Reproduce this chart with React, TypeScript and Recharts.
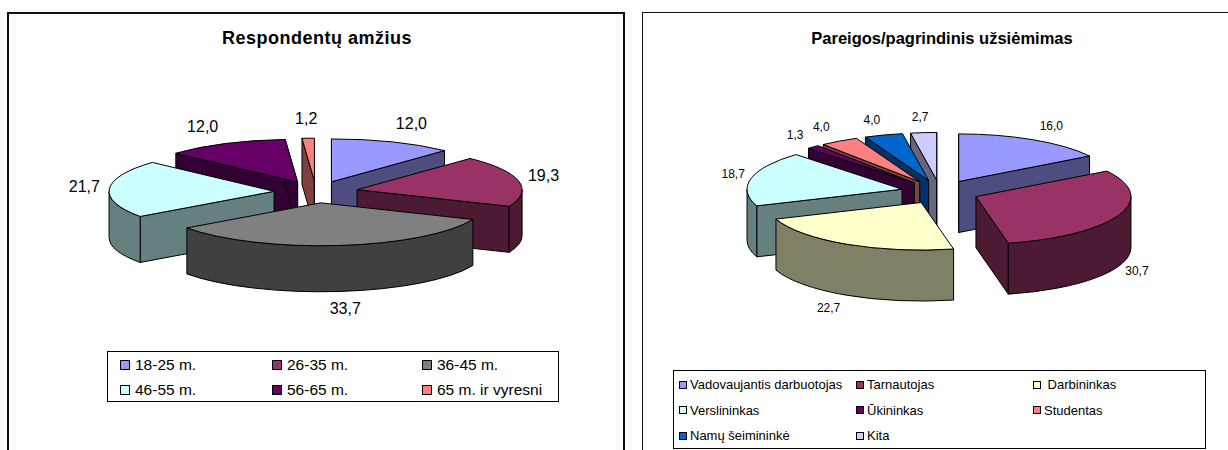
import { PieChart, Pie } from 'recharts'

const ageNames = ['18-25 m.', '26-35 m.', '36-45 m.', '46-55 m.', '56-65 m.', '65 m. ir vyresni']
const ageValues = [12.0, 19.3, 33.7, 21.7, 12.0, 1.2]
const ageColors = ['#9999ff', '#993366', '#808080', '#ccffff', '#660066', '#ff8080']
const agePaintOrder = [5, 4, 0, 3, 1, 2]

const jobNames = [
  'Vadovaujantis darbuotojas',
  'Tarnautojas',
  ' Darbininkas',
  'Verslininkas',
  'Ūkininkas',
  'Studentas',
  'Namų šeimininkė',
  'Kita',
]
const jobValues = [16.0, 30.7, 22.7, 18.7, 1.3, 4.0, 4.0, 2.7]
const jobColors = ['#9999ff', '#993366', '#ffffcc', '#ccffff', '#660066', '#ff8080', '#0066cc', '#ccccff']
const jobPaintOrder = [7, 6, 5, 4, 3, 0, 1, 2]

const toRows = (names: string[], values: number[], colors: string[]) =>
  names.map((name, i) => ({ name, value: values[i], color: colors[i], order: i }))

const shade = (hex: string) => {
  const n = parseInt(hex.slice(1), 16)
  const c = (v: number) => Math.round(v / 2).toString(16).padStart(2, '0')
  return `#${c((n >> 16) & 255)}${c((n >> 8) & 255)}${c(n & 255)}`
}

const RAD = Math.PI / 180

interface SliceStyle {
  tilt: number
  explode: number
  depth: number
  fontSize: number
  labelMaxX: number
  labelKX: number
  labelY: number
}

// one exploded slice: flat ellipse wedge plus its extruded walls
function Slice3D(props: any, style: SliceStyle) {
  const { cx, cy, outerRadius: rx, startAngle, endAngle, payload } = props
  const { tilt, explode, depth } = style
  const ry = rx * tilt
  const color = payload.color
  const side = shade(color)
  const mid = ((startAngle + endAngle) / 2) * RAD
  const ax = cx + explode * Math.cos(mid)
  const ay = cy - explode * tilt * Math.sin(mid)
  const pt = (deg: number) =>
    [ax + rx * Math.cos(deg * RAD), ay - ry * Math.sin(deg * RAD)] as const
  const [sx, sy] = pt(startAngle)
  const [ex, ey] = pt(endAngle)
  const arc = `A${rx},${ry} 0 ${Math.abs(endAngle - startAngle) > 180 ? 1 : 0} 1`

  // cut walls, seen only when they face the viewer
  const wall = (deg: number) => {
    const [x, y] = pt(deg)
    return `M${ax},${ay} L${x},${y} L${x},${y + depth} L${ax},${ay + depth} Z`
  }
  const walls: string[] = []
  if (Math.cos(startAngle * RAD) < 0 || Math.sin(startAngle * RAD) > 0.99) walls.push(wall(startAngle))
  if (Math.cos(endAngle * RAD) > 0 || Math.sin(endAngle * RAD) > 0.99) walls.push(wall(endAngle))

  // outer rim: only the part of the arc on the near half of the ellipse
  let rim = ''
  for (const [lo, hi] of [[-180, 0], [-540, -360], [180, 360]]) {
    const a = Math.min(startAngle, hi)
    const b = Math.max(endAngle, lo)
    if (a <= b) continue
    const [x1, y1] = pt(a)
    const [x2, y2] = pt(b)
    rim += `M${x1},${y1} A${rx},${ry} 0 0 1 ${x2},${y2} L${x2},${y2 + depth} A${rx},${ry} 0 0 0 ${x1},${y1 + depth} Z `
  }

  const cosM = Math.cos(mid)
  const sinM = Math.sin(mid)
  const lx = ax + rx * cosM + Math.sign(cosM) * Math.min(style.labelMaxX, Math.abs(cosM) * style.labelKX)
  const ly = ay - ry * sinM - sinM * style.labelY + (sinM < 0 ? depth : 0)

  return (
    <g stroke="#000" strokeWidth={1} strokeLinejoin="round">
      {walls.map((d) => (
        <path key={d} d={d} fill={side} />
      ))}
      {rim && <path d={rim} fill={side} />}
      <path d={`M${ax},${ay} L${sx},${sy} ${arc} ${ex},${ey} Z`} fill={color} />
      <text
        x={lx}
        y={ly}
        textAnchor="middle"
        dominantBaseline="middle"
        stroke="none"
        fill="#000"
        fontSize={style.fontSize}
        fontFamily="Liberation Sans"
      >
        {payload.value.toFixed(1).replace('.', ',')}
      </text>
    </g>
  )
}

interface LegendBox {
  left: number
  top: number
  width: number
  height: number
  cols: string
  rowH: number
  size: number
  pad: string
  swatch: number
  gap: number
}

interface PanelProps {
  title: string
  names: string[]
  values: number[]
  colors: string[]
  paintOrder: number[]
  left: number
  top: number
  width: number
  border: number
  titleSize: number
  titleY: number
  titleX: number
  titleSpacing: number
  cx: number
  cy: number
  radius: number
  style: SliceStyle
  legend: LegendBox
}

function Panel(p: PanelProps) {
  const rows = toRows(p.names, p.values, p.colors)
  return (
    <div
      style={{
        position: 'absolute',
        left: p.left,
        top: p.top,
        width: p.width,
        height: 470,
        border: `${p.border}px solid #111`,
        boxSizing: 'border-box',
        background: '#fff',
      }}
    >
      <div
        style={{
          position: 'absolute',
          top: p.titleY,
          left: p.titleX,
          width: '100%',
          textAlign: 'center',
          fontFamily: 'Liberation Sans',
          fontWeight: 'bold',
          fontSize: p.titleSize,
          letterSpacing: p.titleSpacing,
        }}
      >
        {p.title}
      </div>
      <div style={{ position: 'absolute', left: 0, top: 0 }}>
        <PieChart width={p.width - 2 * p.border} height={420} margin={{ top: 0, right: 0, bottom: 0, left: 0 }}>
          {p.paintOrder.map((idx) => (
            <Pie
              key={idx}
              data={rows}
              dataKey="value"
              nameKey="name"
              cx={p.cx}
              cy={p.cy}
              outerRadius={p.radius}
              startAngle={90}
              endAngle={-270}
              paddingAngle={0}
              isAnimationActive={false}
              legendType="none"
              shape={(s: any) => (s.payload.order === idx ? Slice3D(s, p.style) : <g />)}
            />
          ))}
        </PieChart>
      </div>
      <div
        style={{
          position: 'absolute',
          left: p.legend.left,
          top: p.legend.top,
          width: p.legend.width,
          height: p.legend.height,
          border: '1px solid #000',
          boxSizing: 'border-box',
          display: 'grid',
          gridTemplateColumns: p.legend.cols,
          gridAutoRows: p.legend.rowH,
          alignItems: 'center',
          padding: p.legend.pad,
          fontFamily: 'Liberation Sans',
          fontSize: p.legend.size,
        }}
      >
        {rows.map((r) => (
          <div key={r.name} style={{ display: 'flex', alignItems: 'center', whiteSpace: 'pre' }}>
            <span
              style={{
                width: p.legend.swatch,
                height: p.legend.swatch,
                marginRight: p.legend.gap,
                background: r.color,
                border: '1px solid #000',
                boxSizing: 'border-box',
                flex: 'none',
              }}
            />
            {r.name}
          </div>
        ))}
      </div>
    </div>
  )
}

export default function App() {
  return (
    <div style={{ position: 'fixed', inset: 0, overflow: 'hidden', background: '#fff' }}>
      <Panel
        title="Respondentų amžius"
        names={ageNames}
        values={ageValues}
        colors={ageColors}
        paintOrder={agePaintOrder}
        left={7}
        top={12}
        width={618}
        border={2}
        titleSize={18}
        titleY={14}
        titleX={1}
        titleSpacing={0.5}
        cx={307}
        cy={178}
        radius={165}
        style={{ tilt: 0.26, explode: 42, depth: 46, fontSize: 16, labelMaxX: 25, labelKX: 52, labelY: 18 }}
        legend={{
          left: 98,
          top: 337,
          width: 452,
          height: 51,
          cols: '152px 150px 130px',
          rowH: 25,
          size: 15.5,
          pad: '0 0 0 12px',
          swatch: 10,
          gap: 5,
        }}
      />
      <Panel
        title="Pareigos/pagrindinis užsiėmimas"
        names={jobNames}
        values={jobValues}
        colors={jobColors}
        paintOrder={jobPaintOrder}
        left={642}
        top={12}
        width={600}
        border={1}
        titleSize={16.5}
        titleY={16}
        titleX={0}
        titleSpacing={0}
        cx={297}
        cy={179}
        radius={155}
        style={{ tilt: 0.307, explode: 39, depth: 51, fontSize: 12, labelMaxX: 18, labelKX: 40, labelY: 15 }}
        legend={{
          left: 30,
          top: 357,
          width: 533,
          height: 79,
          cols: '177px 177px 160px',
          rowH: 25.5,
          size: 13,
          pad: '1px 0 0 5px',
          swatch: 8,
          gap: 3,
        }}
      />
    </div>
  )
}
